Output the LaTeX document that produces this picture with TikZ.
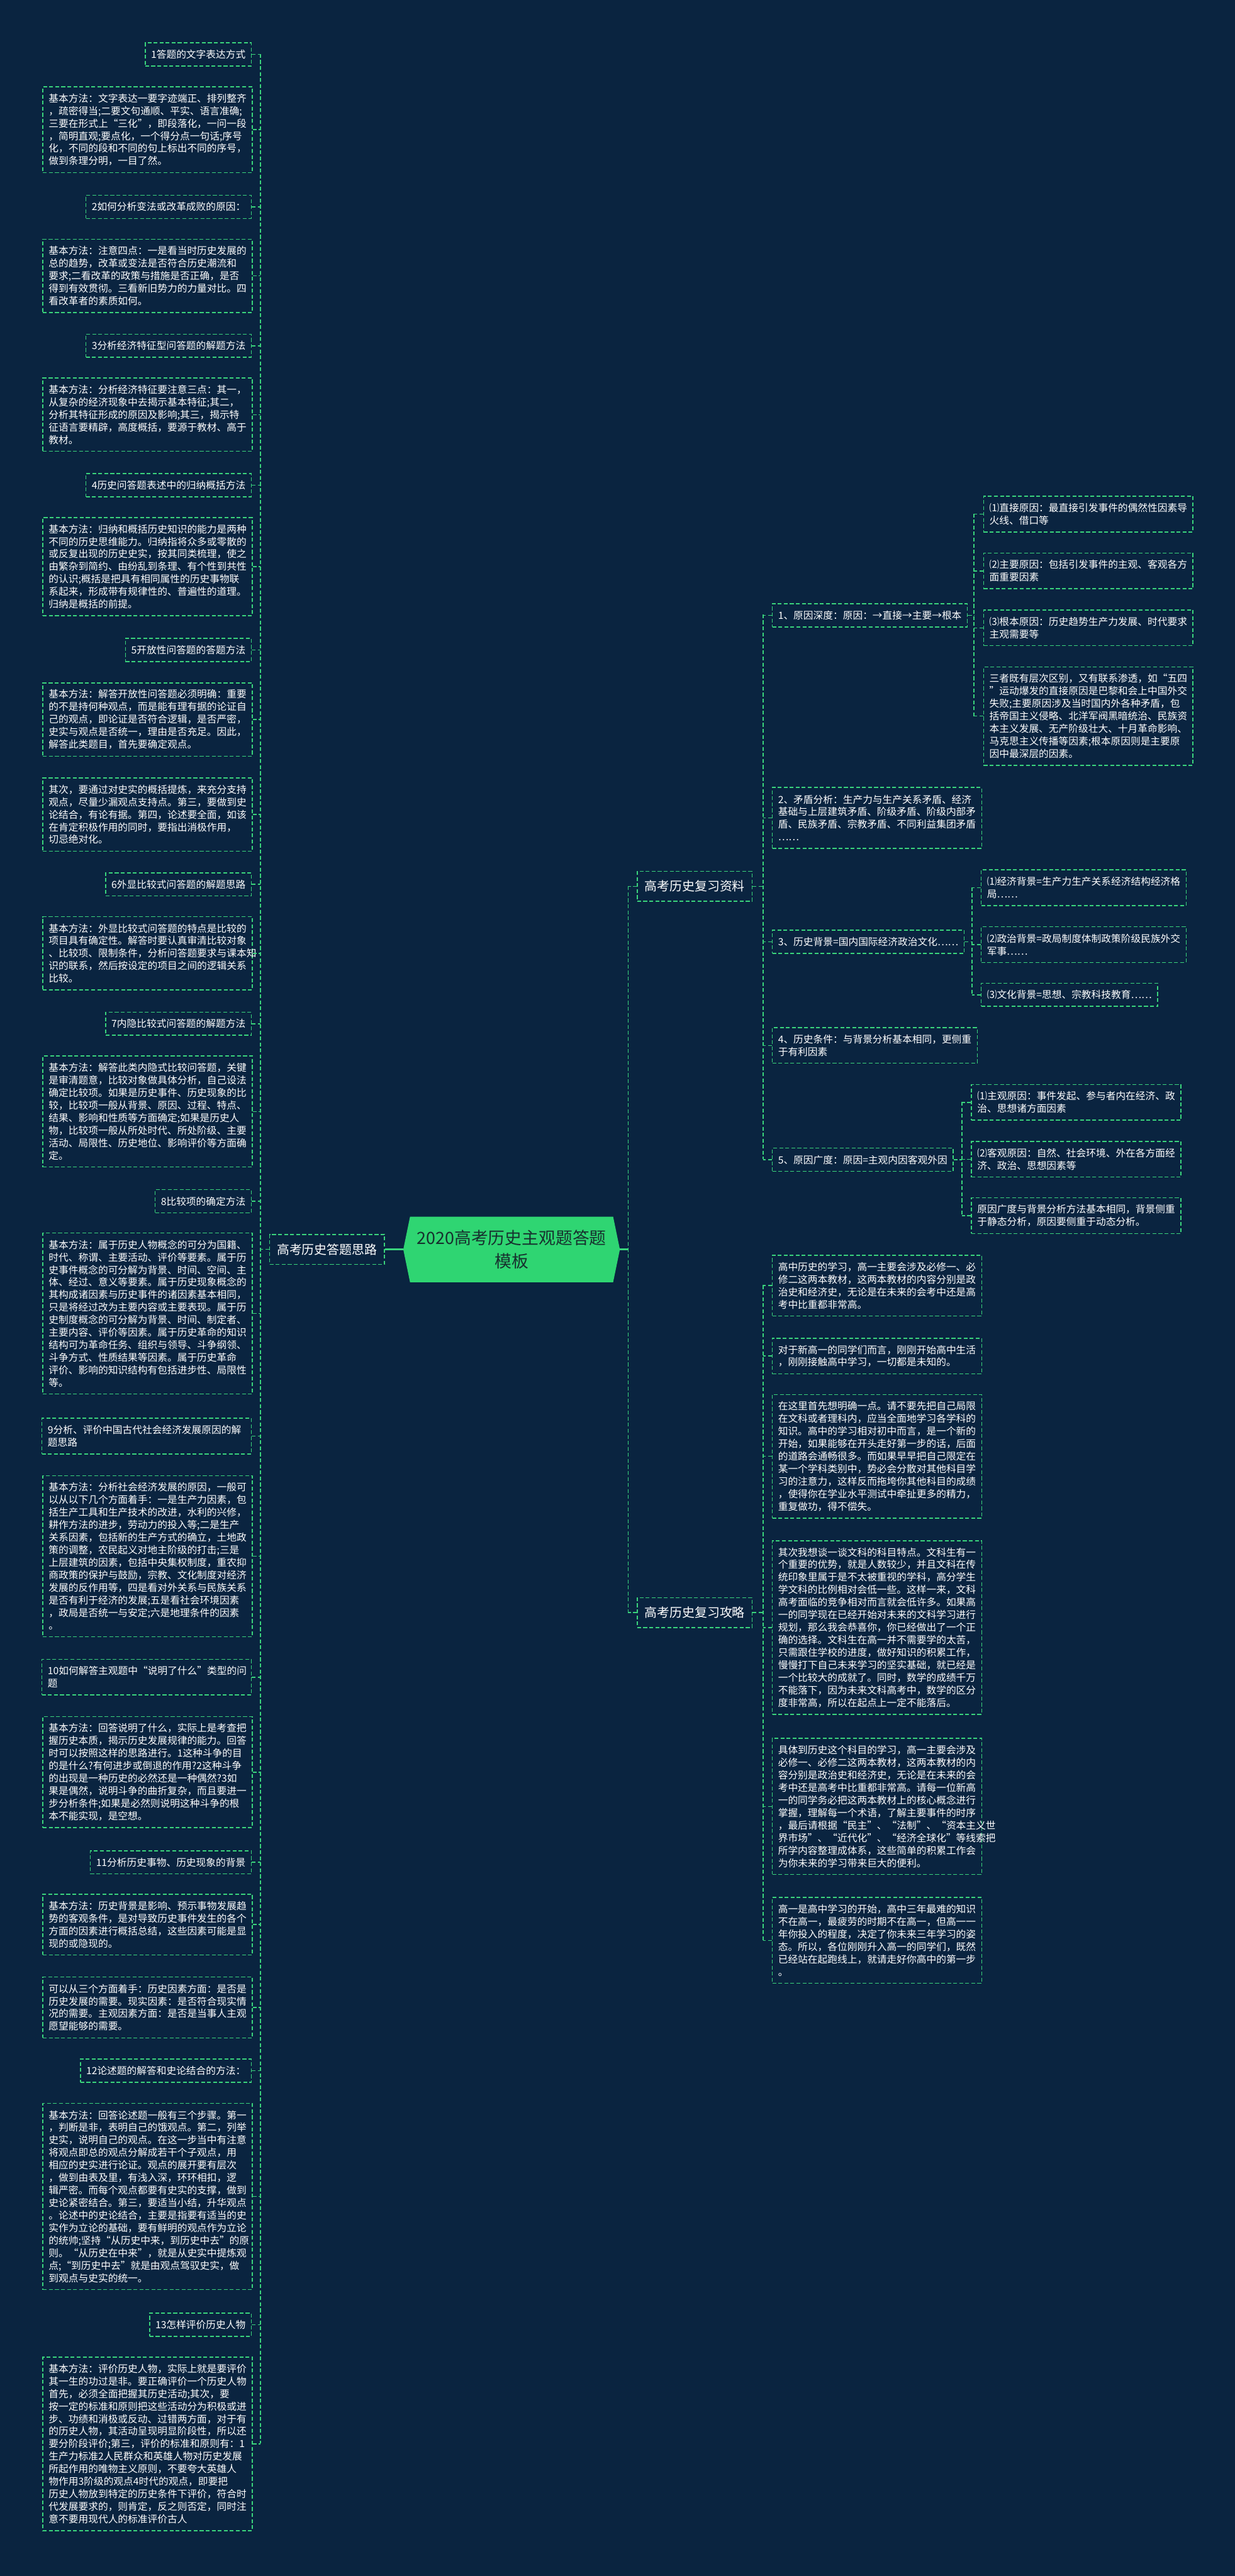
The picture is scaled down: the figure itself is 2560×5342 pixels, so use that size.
\documentclass[tikz,border=0pt]{standalone}
\usepackage{fontspec}
\setmainfont{Noto Sans CJK SC}
\definecolor{bg}{HTML}{0A2440}
\definecolor{gr}{HTML}{3AD47C}
\definecolor{cfill}{HTML}{2FD572}
\definecolor{ctext}{HTML}{17302E}
\tikzset{
  dsh/.style={draw=gr,line width=2pt,dash pattern=on 8pt off 4.5pt},
  conn/.style={dsh},
  solidc/.style={draw=gr,line width=3.5pt},
  bx/.style={dsh,text=white,font=\fontsize{20.5}{26}\selectfont,align=left,inner xsep=12pt},
  cb/.style={bx,anchor=north west,text width=410pt,minimum height=22pt+#1*26pt},
  tb/.style={bx,anchor=north east,minimum height=22pt+#1*26pt},
  tw/.style={bx,anchor=north east,text width=410pt,minimum height=22pt+#1*26pt},
  rb/.style={bx,anchor=north west,minimum height=22pt+#1*26pt},
  bn/.style={dsh,text=white,font=\fontsize{26}{30}\selectfont,inner xsep=15pt,minimum height=62pt},
}
\begin{document}
\begin{tikzpicture}[x=1pt,y=-1pt]
\fill[bg] (0,0) rectangle (2560,5342);
\useasboundingbox (0,0) rectangle (2560,5342);
% centre
\fill[cfill] (850,2523) -- (1271,2523) -- (1285,2591) -- (1271,2659) -- (850,2659) -- (836,2591) -- cycle;
\node[minimum width=449pt,minimum height=136pt,inner sep=0pt,align=center,text=ctext,font=\fontsize{35}{48}\selectfont] (C) at (1060.5,2591) {2020高考历史主观题答题\\模板};
% branch nodes
\node[bn,anchor=east] (L0) at (798,2591) {高考历史答题思路};
\node[bn,anchor=west] (R1) at (1320,1838) {高考历史复习资料};
\node[bn,anchor=west] (R2) at (1320,3344) {高考历史复习攻略};
\draw[solidc] (C.west) -- (L0.east);
\coordinate (RT1) at (1302,1838);
\coordinate (RT2) at (1302,3344);
\draw[solidc] (C.east) -- (C.east -| RT1);
\draw[conn] (RT1) -- (RT2);
\draw[conn] (R1.west) -- (RT1);
\draw[conn] (R2.west) -- (RT2);
% ---------------- left column
\coordinate (LT1) at (540,112);
\coordinate (LT2) at (540,5067);
\draw[conn] (LT1) -- (LT2);
\draw[conn] (L0.west) -- (L0.west -| LT1);
\node[tb=1] (t1) at (522,88) {1答题的文字表达方式};
\node[cb=6] (c1) at (88,179) {基本方法：文字表达一要字迹端正、排列整齐\\，疏密得当;二要文句通顺、平实、语言准确;\\三要在形式上“三化”，即段落化，一问一段\\，简明直观;要点化，一个得分点一句话;序号\\化，不同的段和不同的句上标出不同的序号，\\做到条理分明，一目了然。};
\node[tb=1] (t2) at (522,404) {2如何分析变法或改革成败的原因：};
\node[cb=5] (c2) at (88,495) {基本方法：注意四点：一是看当时历史发展的\\总的趋势，改革或变法是否符合历史潮流和\\要求;二看改革的政策与措施是否正确，是否\\得到有效贯彻。三看新旧势力的力量对比。四\\看改革者的素质如何。};
\node[tb=1] (t3) at (522,692) {3分析经济特征型问答题的解题方法};
\node[cb=5] (c3) at (88,783) {基本方法：分析经济特征要注意三点：其一，\\从复杂的经济现象中去揭示基本特征;其二，\\分析其特征形成的原因及影响;其三，揭示特\\征语言要精辟，高度概括，要源于教材、高于\\教材。};
\node[tb=1] (t4) at (522,981) {4历史问答题表述中的归纳概括方法};
\node[cb=7] (c4) at (88,1072) {基本方法：归纳和概括历史知识的能力是两种\\不同的历史思维能力。归纳指将众多或零散的\\或反复出现的历史史实，按其同类梳理，使之\\由繁杂到简约、由纷乱到条理、有个性到共性\\的认识;概括是把具有相同属性的历史事物联\\系起来，形成带有规律性的、普遍性的道理。\\归纳是概括的前提。};
\node[tb=1] (t5) at (522,1323) {5开放性问答题的答题方法};
\node[cb=5] (c5) at (88,1415) {基本方法：解答开放性问答题必须明确：重要\\的不是持何种观点，而是能有理有据的论证自\\己的观点，即论证是否符合逻辑，是否严密，\\史实与观点是否统一，理由是否充足。因此，\\解答此类题目，首先要确定观点。};
\node[cb=5] (c5b) at (88,1612) {其次，要通过对史实的概括提炼，来充分支持\\观点，尽量少漏观点支持点。第三，要做到史\\论结合，有论有据。第四，论述要全面，如该\\在肯定积极作用的同时，要指出消极作用，\\切忌绝对化。};
\node[tb=1] (t6) at (522,1809) {6外显比较式问答题的解题思路};
\node[cb=5] (c6) at (88,1900) {基本方法：外显比较式问答题的特点是比较的\\项目具有确定性。解答时要认真审清比较对象\\、比较项、限制条件，分析问答题要求与课本知\\识的联系，然后按设定的项目之间的逻辑关系\\比较。};
\node[tb=1] (t7) at (522,2098) {7内隐比较式问答题的解题方法};
\node[cb=8] (c7) at (88,2189) {基本方法：解答此类内隐式比较问答题，关键\\是审清题意，比较对象做具体分析，自己设法\\确定比较项。如果是历史事件、历史现象的比\\较，比较项一般从背景、原因、过程、特点、\\结果、影响和性质等方面确定;如果是历史人\\物，比较项一般从所处时代、所处阶级、主要\\活动、局限性、历史地位、影响评价等方面确\\定。};
\node[tb=1] (t8) at (522,2466) {8比较项的确定方法};
\node[cb=12] (c8) at (88,2556) {基本方法：属于历史人物概念的可分为国籍、\\时代、称谓、主要活动、评价等要素。属于历\\史事件概念的可分解为背景、时间、空间、主\\体、经过、意义等要素。属于历史现象概念的\\其构成诸因素与历史事件的诸因素基本相同，\\只是将经过改为主要内容或主要表现。属于历\\史制度概念的可分解为背景、时间、制定者、\\主要内容、评价等因素。属于历史革命的知识\\结构可为革命任务、组织与领导、斗争纲领、\\斗争方式、性质结果等因素。属于历史革命\\评价、影响的知识结构有包括进步性、局限性\\等。};
\node[tw=2] (t9) at (522,2940) {9分析、评价中国古代社会经济发展原因的解\\题思路};
\node[cb=12] (c9) at (88,3059) {基本方法：分析社会经济发展的原因，一般可\\以从以下几个方面着手：一是生产力因素，包\\括生产工具和生产技术的改进，水利的兴修，\\耕作方法的进步，劳动力的投入等;二是生产\\关系因素，包括新的生产方式的确立，土地政\\策的调整，农民起义对地主阶级的打击;三是\\上层建筑的因素，包括中央集权制度，重农抑\\商政策的保护与鼓励，宗教、文化制度对经济\\发展的反作用等，四是看对外关系与民族关系\\是否有利于经济的发展;五是看社会环境因素\\，政局是否统一与安定;六是地理条件的因素\\。};
\node[tw=2] (t10) at (522,3440) {10如何解答主观题中“说明了什么”类型的问\\题};
\node[cb=8] (c10) at (88,3559) {基本方法：回答说明了什么，实际上是考查把\\握历史本质，揭示历史发展规律的能力。回答\\时可以按照这样的思路进行。1这种斗争的目\\的是什么?有何进步或倒退的作用?2这种斗争\\的出现是一种历史的必然还是一种偶然?3如\\果是偶然，说明斗争的曲折复杂，而且要进一\\步分析条件;如果是必然则说明这种斗争的根\\本不能实现，是空想。};
\node[tb=1] (t11) at (522,3837) {11分析历史事物、历史现象的背景};
\node[cb=4] (c11) at (88,3927) {基本方法：历史背景是影响、预示事物发展趋\\势的客观条件，是对导致历史事件发生的各个\\方面的因素进行概括总结，这些因素可能是显\\现的或隐现的。};
\node[cb=4] (c11b) at (88,4099) {可以从三个方面着手：历史因素方面：是否是\\历史发展的需要。现实因素：是否符合现实情\\况的需要。主观因素方面：是否是当事人主观\\愿望能够的需要。};
\node[tb=1] (t12) at (522,4269) {12论述题的解答和史论结合的方法：};
\node[cb=14] (c12) at (88,4361) {基本方法：回答论述题一般有三个步骤。第一\\，判断是非，表明自己的饿观点。第二，列举\\史实，说明自己的观点。在这一步当中有注意\\将观点即总的观点分解成若干个子观点，用\\相应的史实进行论证。观点的展开要有层次\\，做到由表及里，有浅入深，环环相扣，逻\\辑严密。而每个观点都要有史实的支撑，做到\\史论紧密结合。第三，要适当小结，升华观点\\。论述中的史论结合，主要是指要有适当的史\\实作为立论的基础，要有鲜明的观点作为立论\\的统帅;坚持“从历史中来，到历史中去”的原\\则。“从历史在中来”，就是从史实中提炼观\\点;“到历史中去”就是由观点驾驭史实，做\\到观点与史实的统一。};
\node[tb=1] (t13) at (522,4796) {13怎样评价历史人物};
\node[cb=13] (c13) at (88,4887) {基本方法：评价历史人物，实际上就是要评价\\其一生的功过是非。要正确评价一个历史人物\\首先，必须全面把握其历史活动;其次，要\\按一定的标准和原则把这些活动分为积极或进\\步、功绩和消极或反动、过错两方面，对于有\\的历史人物，其活动呈现明显阶段性，所以还\\要分阶段评价;第三，评价的标准和原则有：1\\生产力标准2人民群众和英雄人物对历史发展\\所起作用的唯物主义原则，不要夸大英雄人\\物作用3阶级的观点4时代的观点，即要把\\历史人物放到特定的历史条件下评价，符合时\\代发展要求的，则肯定，反之则否定，同时注\\意不要用现代人的标准评价古人};
\foreach \n in {t1,c1,t2,c2,t3,c3,t4,c4,t5,c5,c5b,t6,c6,t7,c7,t8,c8,t9,c9,t10,c10,t11,c11,c11b,t12,c12,t13,c13}
  \draw[conn] (\n.east) -- (\n.east -| LT1);
% ---------------- right 1
\coordinate (A1) at (1582,1274);
\coordinate (A2) at (1582,2404);
\draw[conn] (A1) -- (A2);
\draw[conn] (R1.east) -- (R1.east -| A1);
\node[rb=1] (r1) at (1600,1251) {1、原因深度：原因：→直接→主要→根本};
\node[rb=4] (r2) at (1600,1632) {2、矛盾分析：生产力与生产关系矛盾、经济\\基础与上层建筑矛盾、阶级矛盾、阶级内部矛\\盾、民族矛盾、宗教矛盾、不同利益集团矛盾\\……};
\node[rb=1] (r3) at (1600,1928) {3、历史背景=国内国际经济政治文化……};
\node[rb=2] (r4) at (1600,2130) {4、历史条件：与背景分析基本相同，更侧重\\于有利因素};
\node[rb=1] (r5) at (1600,2380) {5、原因广度：原因=主观内因客观外因};
\foreach \n in {r1,r2,r3,r4,r5}
  \draw[conn] (\n.west) -- (\n.west -| A1);
% sub of r1
\coordinate (B1) at (2019,1065);
\coordinate (B2) at (2019,1485);
\draw[conn] (B1) -- (B2);
\draw[conn] (r1.east) -- (r1.east -| B1);
\node[rb=2] (r11) at (2038,1028) {⑴直接原因：最直接引发事件的偶然性因素导\\火线、借口等};
\node[rb=2] (r12) at (2038,1146) {⑵主要原因：包括引发事件的主观、客观各方\\面重要因素};
\node[rb=2] (r13) at (2038,1264) {⑶根本原因：历史趋势生产力发展、时代要求\\主观需要等};
\node[rb=7] (r14) at (2038,1382) {三者既有层次区别，又有联系渗透，如“五四\\”运动爆发的直接原因是巴黎和会上中国外交\\失败;主要原因涉及当时国内外各种矛盾，包\\括帝国主义侵略、北洋军阀黑暗统治、民族资\\本主义发展、无产阶级壮大、十月革命影响、\\马克思主义传播等因素;根本原因则是主要原\\因中最深层的因素。};
\foreach \n in {r11,r12,r13,r14}
  \draw[conn] (\n.west) -- (\n.west -| B1);
% sub of r3
\coordinate (D1) at (2015,1840);
\coordinate (D2) at (2015,2062);
\draw[conn] (D1) -- (D2);
\draw[conn] (r3.east) -- (r3.east -| D1);
\node[rb=2] (r31) at (2033,1803) {⑴经济背景=生产力生产关系经济结构经济格\\局……};
\node[rb=2] (r32) at (2033,1921) {⑵政治背景=政局制度体制政策阶级民族外交\\军事……};
\node[rb=1] (r33) at (2033,2038) {⑶文化背景=思想、宗教科技教育……};
\foreach \n in {r31,r32,r33}
  \draw[conn] (\n.west) -- (\n.west -| D1);
% sub of r5
\coordinate (E1) at (1994,2285);
\coordinate (E2) at (1994,2520);
\draw[conn] (E1) -- (E2);
\draw[conn] (r5.east) -- (r5.east -| E1);
\node[rb=2] (r51) at (2013,2248) {⑴主观原因：事件发起、参与者内在经济、政\\治、思想诸方面因素};
\node[rb=2] (r52) at (2013,2366) {⑵客观原因：自然、社会环境、外在各方面经\\济、政治、思想因素等};
\node[rb=2] (r53) at (2013,2483) {原因广度与背景分析方法基本相同，背景侧重\\于静态分析，原因要侧重于动态分析。};
\foreach \n in {r51,r52,r53}
  \draw[conn] (\n.west) -- (\n.west -| E1);
% ---------------- right 2
\coordinate (G1) at (1582,2665);
\coordinate (G2) at (1582,4023);
\draw[conn] (G1) -- (G2);
\draw[conn] (R2.east) -- (R2.east -| G1);
\node[cb=4] (g1) at (1600,2602) {高中历史的学习，高一主要会涉及必修一、必\\修二这两本教材，这两本教材的内容分别是政\\治史和经济史，无论是在未来的会考中还是高\\考中比重都非常高。};
\node[cb=2] (g2) at (1600,2774) {对于新高一的同学们而言，刚刚开始高中生活\\，刚刚接触高中学习，一切都是未知的。};
\node[cb=9] (g3) at (1600,2891) {在这里首先想明确一点。请不要先把自己局限\\在文科或者理科内，应当全面地学习各学科的\\知识。高中的学习相对初中而言，是一个新的\\开始，如果能够在开头走好第一步的话，后面\\的道路会通畅很多。而如果早早把自己限定在\\某一个学科类别中，势必会分散对其他科目学\\习的注意力，这样反而拖垮你其他科目的成绩\\，使得你在学业水平测试中牵扯更多的精力，\\重复做功，得不偿失。};
\node[cb=13] (g4) at (1600,3194) {其次我想谈一谈文科的科目特点。文科生有一\\个重要的优势，就是人数较少，并且文科在传\\统印象里属于是不太被重视的学科，高分学生\\学文科的比例相对会低一些。这样一来，文科\\高考面临的竞争相对而言就会低许多。如果高\\一的同学现在已经开始对未来的文科学习进行\\规划，那么我会恭喜你，你已经做出了一个正\\确的选择。文科生在高一并不需要学的太苦，\\只需跟住学校的进度，做好知识的积累工作，\\慢慢打下自己未来学习的坚实基础，就已经是\\一个比较大的成就了。同时，数学的成绩千万\\不能落下，因为未来文科高考中，数学的区分\\度非常高，所以在起点上一定不能落后。};
\node[cb=10] (g5) at (1600,3604) {具体到历史这个科目的学习，高一主要会涉及\\必修一、必修二这两本教材，这两本教材的内\\容分别是政治史和经济史，无论是在未来的会\\考中还是高考中比重都非常高。请每一位新高\\一的同学务必把这两本教材上的核心概念进行\\掌握，理解每一个术语，了解主要事件的时序\\，最后请根据“民主”、“法制”、“资本主义世\\界市场”、“近代化”、“经济全球化”等线索把\\所学内容整理成体系，这些简单的积累工作会\\为你未来的学习带来巨大的便利。};
\node[cb=6] (g6) at (1600,3934) {高一是高中学习的开始，高中三年最难的知识\\不在高一，最疲劳的时期不在高一，但高一一\\年你投入的程度，决定了你未来三年学习的姿\\态。所以，各位刚刚升入高一的同学们，既然\\已经站在起跑线上，就请走好你高中的第一步\\。};
\foreach \n in {g1,g2,g3,g4,g5,g6}
  \draw[conn] (\n.west) -- (\n.west -| G1);
\end{tikzpicture}
\end{document}
